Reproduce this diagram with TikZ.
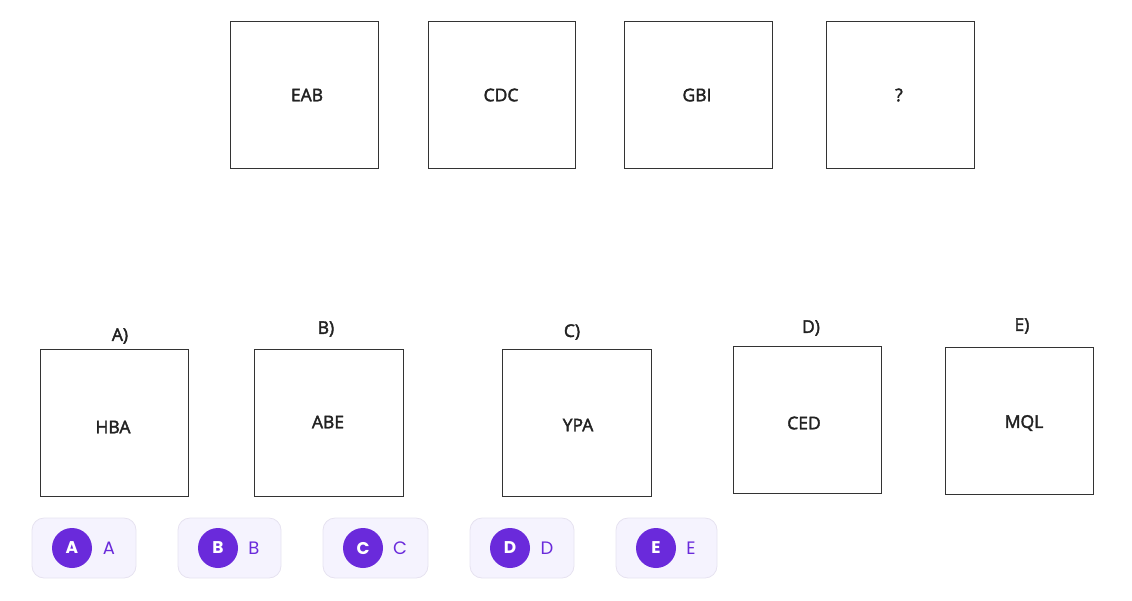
\documentclass[tikz,border=0pt]{standalone}
\usepackage{fontspec}
\setmainfont{Open Sans}
\newfontfamily\medfont[FakeBold=2.2]{Open Sans}
\newfontfamily\popfont{Poppins}
\definecolor{btnfill}{HTML}{F5F3FE}
\definecolor{btnedge}{HTML}{E6E2F0}
\definecolor{purp}{HTML}{6A2ADB}
\definecolor{txt}{HTML}{222222}
\begin{document}
\begin{tikzpicture}[x=1pt,y=-1pt,
  sq/.style={draw=black!80,line width=0.9pt},
  lbl/.style={font=\medfont\fontsize{17.5}{20}\selectfont,text=txt},
  btn/.style={draw=btnedge,fill=btnfill,rounded corners=12pt,line width=0.8pt},
  dot/.style={circle,fill=purp,minimum size=40pt,inner sep=0pt,text=white,font=\popfont\bfseries\fontsize{17}{18}\selectfont},
  let/.style={text=purp,font=\popfont\fontsize{18}{20}\selectfont}]
\useasboundingbox (0,0) rectangle (1132,600);
% top row
\draw[sq] (230,21) rectangle (378,168);
\node[lbl] (t1) at (307,95) {EAB};
\draw[sq] (428,21) rectangle (575,168);
\node[lbl] (t2) at (501,95) {CDC};
\draw[sq] (624,21) rectangle (772,168);
\node[lbl] (t3) at (697,95) {GBI};
\draw[sq] (826,21) rectangle (974,168);
\node[lbl] (t4) at (899,95) {?};
% options
\draw[sq] (40,349) rectangle (188,496);
\node[lbl] (la) at (120,336) {A)};
\node[lbl] (oa) at (113,427) {HBA};
\draw[sq] (254,349) rectangle (403,496);
\node[lbl] (lb) at (326,329) {B)};
\node[lbl] (ob) at (328,422) {ABE};
\draw[sq] (502,349) rectangle (651,496);
\node[lbl] (lc) at (572,332) {C)};
\node[lbl] (oc) at (578,425) {YPA};
\draw[sq] (733,346) rectangle (881,493);
\node[lbl] (ld) at (811,328) {D)};
\node[lbl] (od) at (804,423) {CED};
\draw[sq] (945,347) rectangle (1093,494);
\node[lbl] (le) at (1022,326) {E)};
\node[lbl] (oe) at (1024,423) {MQL};
% buttons
\draw[btn] (32,518) rectangle (136,578);
\node[dot] (ca) at (72,548) {A};
\node[let] (ta) at (109,548) {A};
\draw[btn] (178,518) rectangle (281,578);
\node[dot] (cb) at (218,548) {B};
\node[let] (tb) at (254,548) {B};
\draw[btn] (323,518) rectangle (428,578);
\node[dot] (cc) at (363,548) {C};
\node[let] (tc) at (400,548) {C};
\draw[btn] (470,518) rectangle (574,578);
\node[dot] (cd) at (510,548) {D};
\node[let] (td) at (547,548) {D};
\draw[btn] (616,518) rectangle (717,578);
\node[dot] (ce) at (656,548) {E};
\node[let] (te) at (691,548) {E};
\end{tikzpicture}
\end{document}
